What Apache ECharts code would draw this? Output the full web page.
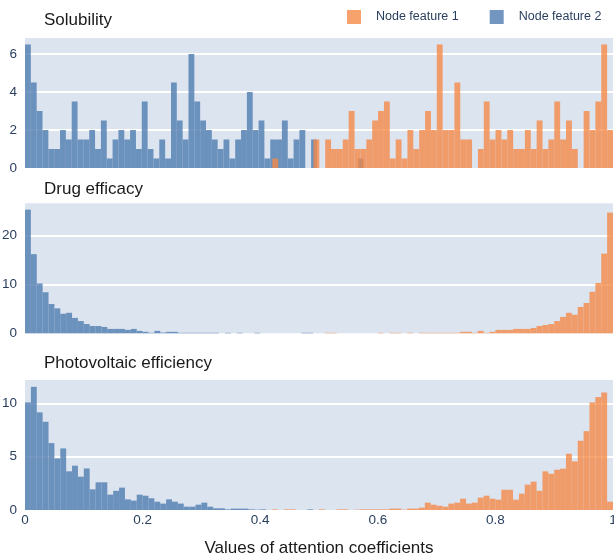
<!DOCTYPE html>
<html><head><meta charset="utf-8">
<script src="https://cdn.jsdelivr.net/npm/echarts@6/dist/echarts.min.js"></script>
<style>html,body{margin:0;padding:0;background:#fff}#c{width:614px;height:556px}</style>
</head><body><div id="c"></div>
<script>
// ---- data ----
const panelTitles = ['Solubility', 'Drug efficacy', 'Photovoltaic efficiency'];
const seriesNames = ['Node feature 1', 'Node feature 2'];
const xAxisTitle = 'Values of attention coefficients';
const xTickValues = [0, 0.2, 0.4, 0.6, 0.8, 1];
const yMaxes = [6.84, 26.6, 12.2];
const yIntervals = [2, 10, 5];

// Solubility (density per bin)
const solBlueStart = 0, solBlueWidth = 0.00993;
const solBlue = [6.5,4.5,3,2,1,1,2,1.5,3.5,1.5,1.5,2,1,2.5,0.5,1.5,2,1.5,2,1,3.5,1,0.5,1.5,0.5,
  4.5,2.5,1.5,6,3.5,2.5,2,1.5,1,1.5,0.5,1.5,2,4,2,2.5,0.5,1.5,1.5,2.5,0.5,1.5,2,0,1.5,
  0,0,0,0,0,0,0,0.5];
const solOrangeStart = 0.4206, solOrangeWidth = 0.00999;
const solOrange = [0.5,0,0,0,0,0,0,
  1.5,0,1.5,1,1,1.5,3,1,1,1.5,2.5,3,3.5,0.5,1.5,0.5,2,1,2,3,2,6.5,2,2,4.5,1.5,1.5,0,
  1,3.5,1.5,2,1.5,2,1,1,2,1,2.5,1,1.5,3.5,1.5,2.5,1,0,3,2,3.5,6.5,2];

// Drug efficacy
const drugBlueStart = 0, drugBlueWidth = 0.01;
const drugBlue = [25.3,16.2,10.2,8.4,6.0,5.1,4.0,4.2,3.15,2.5,1.9,1.5,1.5,1.3,0.9,0.9,0.9,0.7,0.9,0.5,
  0.3,0.1,0.5,0.15,0.3,0.3,0.1,0.1,0.1,0.1,0.1,0.1,0.1,0,0.1,0,0.1,0,0,0.1,0,0,0,0,0,0,0,0.1,0.1];
const drugOrangeStart = 0.51, drugOrangeWidth = 0.01;
const drugOrange = [0.1,0.1,0,0,0,0,0,0,0,0.1,0,0.1,0.1,0,0.1,0,0.1,0.1,0.1,0.1,0.1,0.1,0.1,
  0.3,0.3,0.1,0.5,0.1,0.3,0.7,0.7,0.7,0.9,0.9,0.9,1.1,1.5,1.7,1.9,2.5,3.35,4.2,3.8,5.4,6.2,8.5,10.3,16.3,24.7];

// Photovoltaic efficiency
const pvBlueStart = 0, pvBlueWidth = 0.01;
const pvBlue = [10.1,11.56,9.16,8.28,6.28,4.84,5.78,3.63,4.16,3.13,3.9,1.94,2.6,2.6,1.44,1.8,2.1,1.0,0.88,1.44,
  1.34,1.1,0.78,0.6,1.0,0.78,0.6,0.31,0.31,0.5,0.69,0.31,0.16,0.16,0.06,0.13,0.13,0.13,0.06,0.03,0.06,
  0,0,0,0,0,0,0,0.06];
const pvOrangeStart = 0.42, pvOrangeWidth = 0.01;
const pvOrange = [0.06,0,0.06,0.06,0,0,0,0,0.06,0,0,0.06,0.06,0,0.03,0.06,0.06,0.06,0.06,0.06,0.13,0.13,0.03,0.13,0.13,
  0.22,0.69,0.5,0.4,0.31,0.6,0.69,1.06,0.6,0.69,1.16,1.34,1.06,0.97,1.9,1.9,0.97,1.53,2.38,2.66,1.8,
  3.63,3.4,3.78,3.88,5.28,4.56,6.5,7.4,10.1,10.6,11.03,0.78];

// ---- build ----
function toBins(start, width, values) {
  return values.map((v, i) => [start + i * width, start + (i + 1) * width, v]).filter(d => d[2] > 0);
}
const panels = [
  { blue: toBins(solBlueStart, solBlueWidth, solBlue), orange: toBins(solOrangeStart, solOrangeWidth, solOrange) },
  { blue: toBins(drugBlueStart, drugBlueWidth, drugBlue), orange: toBins(drugOrangeStart, drugOrangeWidth, drugOrange) },
  { blue: toBins(pvBlueStart, pvBlueWidth, pvBlue), orange: toBins(pvOrangeStart, pvOrangeWidth, pvOrange) }
];

const ORANGE = 'rgba(245,138,72,0.8)';
const BLUE = 'rgba(79,124,176,0.8)';
const BG = '#dce4f0';
const TICK = '#2a3f5f';
const FONT = '"Liberation Sans", Arial, sans-serif';

function renderBin(params, api) {
  const p0 = api.coord([api.value(0), 0]);
  const p1 = api.coord([api.value(1), api.value(2)]);
  return {
    type: 'rect',
    shape: { x: p0[0], y: p1[1], width: p1[0] - p0[0], height: p0[1] - p1[1] },
    style: { fill: api.visual('color') }
  };
}

const gridTops = [38, 203.3, 380];
const grids = gridTops.map(t => ({ left: 25, right: 1, top: t, height: 130, backgroundColor: BG, show: true,
  borderWidth: 0, containLabel: false, outerBoundsMode: 'none' }));
const xAxes = gridTops.map((t, i) => ({
  type: 'value', gridIndex: i, min: 0, max: 1, interval: 0.2,
  axisLine: { show: false }, axisTick: { show: false }, splitLine: { show: false },
  axisLabel: { show: i === 2, color: TICK, fontSize: 13.5, fontFamily: FONT, margin: 3,
    customValues: xTickValues },
  name: i === 2 ? xAxisTitle : '', nameLocation: 'middle', nameGap: 30,
  nameTextStyle: { fontSize: 17, color: '#1a1a1a', fontFamily: FONT }
}));
const yAxes = gridTops.map((t, i) => ({
  type: 'value', gridIndex: i, min: 0, max: yMaxes[i], interval: yIntervals[i],
  axisLine: { show: false }, axisTick: { show: false },
  splitLine: { show: true, showMinLine: false, showMaxLine: false, lineStyle: { color: '#fff', width: 2 } },
  axisLabel: { color: TICK, fontSize: 13.5, fontFamily: FONT, margin: 8, showMaxLabel: false }
}));
const series = [];
panels.forEach((p, i) => {
  series.push({ type: 'custom', name: seriesNames[1], xAxisIndex: i, yAxisIndex: i, renderItem: renderBin,
    itemStyle: { color: BLUE }, encode: { x: [0, 1], y: 2 }, data: p.blue, z: 2 });
  series.push({ type: 'custom', name: seriesNames[0], xAxisIndex: i, yAxisIndex: i, renderItem: renderBin,
    itemStyle: { color: ORANGE }, encode: { x: [0, 1], y: 2 }, data: p.orange, z: 3 });
});
const titleTops = [12, 181, 355];
const option = {
  animation: false,
  backgroundColor: '#fff',
  title: panelTitles.map((t, i) => ({ text: t, left: 44, top: titleTops[i], padding: 0,
    textStyle: { fontSize: 17, fontWeight: 'normal', color: '#1a1a1a', fontFamily: FONT } })),
  legend: {
    data: seriesNames, left: 347, top: 10, padding: 0, itemWidth: 14, itemHeight: 14, itemGap: 31,
    icon: 'rect', textStyle: { fontSize: 12.5, color: TICK, fontFamily: FONT, padding: [0, 0, 0, 10] }
  },
  grid: grids, xAxis: xAxes, yAxis: yAxes, series: series
};
const chart = echarts.init(document.getElementById('c'), null, { renderer: 'canvas' });
chart.setOption(option);
</script>
</body></html>
